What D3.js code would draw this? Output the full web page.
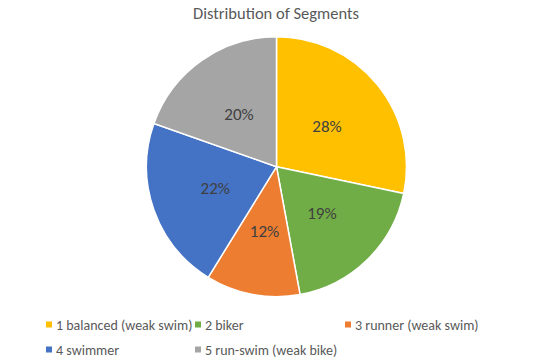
<!DOCTYPE html>
<html><head><meta charset="utf-8">
<script src="https://cdn.jsdelivr.net/npm/d3@7"></script>
<style>body{margin:0;background:#fff}svg{display:block}</style>
</head><body><svg id="c" width="548" height="361"></svg>
<script>
const categories = ["1 balanced (weak swim)", "2 biker", "3 runner (weak swim)", "4 swimmer", "5 run-swim (weak bike)"];
const values = [28.3, 18.8, 11.7, 21.6, 19.6];
const colors = ["#FFC000", "#70AD47", "#ED7D31", "#4472C4", "#A5A5A5"];
const title = "Distribution of Segments";

const svg = d3.select("#c");
const font = "Calibri, Carlito, Lato, 'Open Sans', sans-serif";
const cx = 276.5, cy = 166.7, r = 130;

svg.append("text").attr("x", 276).attr("y", 19).attr("text-anchor", "middle")
  .attr("font-family", font).attr("font-size", 16.5).attr("fill", "#595959").text(title);

const data = categories.map((c, i) => ({c, v: values[i], col: colors[i]}));
const pie = d3.pie().value(d => d.v).sort(null);
const arcs = pie(data);
const arc = d3.arc().innerRadius(0).outerRadius(r);
const labelArc = d3.arc().innerRadius(r * 0.5).outerRadius(r * 0.5);
const total = d3.sum(values);
const g = svg.append("g").attr("transform", `translate(${cx},${cy})`);
g.selectAll("path").data(arcs).join("path")
  .attr("d", arc).attr("fill", d => d.data.col)
  .attr("stroke", "#fff").attr("stroke-width", 1.5).attr("stroke-linejoin", "round");
g.selectAll("text").data(arcs).join("text")
  .attr("transform", d => `translate(${labelArc.centroid(d)})`)
  .attr("text-anchor", "middle").attr("dy", "0.35em")
  .attr("font-family", font).attr("font-size", 17).attr("fill", "#404040")
  .text(d => Math.round(d.data.v / total * 100) + "%");

const legX = [46, 195, 345, 46, 195];
const legY = [325, 325, 325, 350, 350];
const lg = svg.append("g");
data.forEach((d, i) => {
  lg.append("rect").attr("x", legX[i]).attr("y", legY[i] - 3.5).attr("width", 6).attr("height", 6).attr("fill", d.col);
  lg.append("text").attr("x", legX[i] + 10).attr("y", legY[i]).attr("dy", "0.35em")
    .attr("font-family", font).attr("font-size", 14).attr("fill", "#595959").text(d.c);
});
</script></body></html>
